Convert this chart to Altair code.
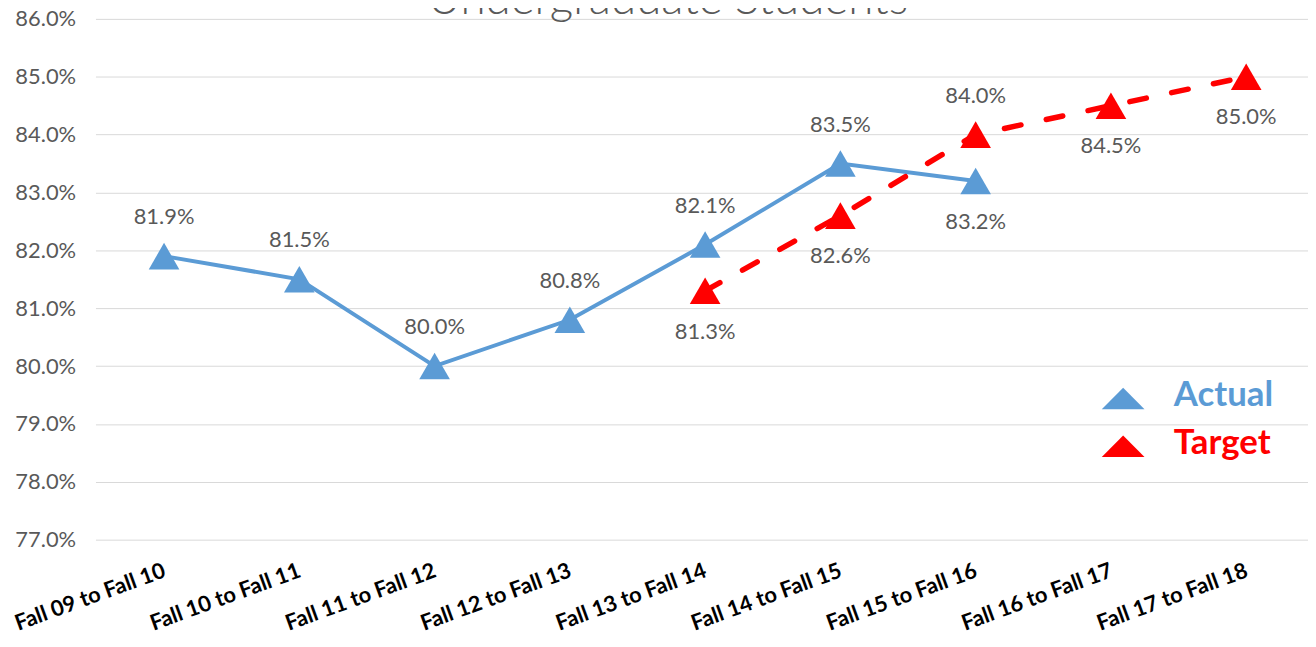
import altair as alt
import pandas as pd

# ---- data ----
categories = [
    "Fall 09 to Fall 10", "Fall 10 to Fall 11", "Fall 11 to Fall 12",
    "Fall 12 to Fall 13", "Fall 13 to Fall 14", "Fall 14 to Fall 15",
    "Fall 15 to Fall 16", "Fall 16 to Fall 17", "Fall 17 to Fall 18",
]
actual_values = [81.9, 81.5, 80.0, 80.8, 82.1, 83.5, 83.2, None, None]
target_values = [None, None, None, None, 81.3, 82.6, 84.0, 84.5, 85.0]
y_ticks = [77, 78, 79, 80, 81, 82, 83, 84, 85, 86]
series_names = ["Actual", "Target"]
title_text = "Undergraduate Students"

# ---- styling ----
BLUE = "#5B9BD5"
RED = "#FF0000"
GREY = "#595959"
FONT = "Lato"

# labels that sit on the other side of their point
below_actual = {"Fall 15 to Fall 16"}
above_target = {"Fall 15 to Fall 16"}

rows = []
for c, a, t in zip(categories, actual_values, target_values):
    if a is not None:
        rows.append({"category": c, "series": series_names[0], "value": a,
                     "below": c in below_actual})
    if t is not None:
        rows.append({"category": c, "series": series_names[1], "value": t,
                     "below": c not in above_target})
df = pd.DataFrame(rows)

x_enc = alt.X(
    "category:N", sort=categories,
    scale=alt.Scale(type="point", padding=0.482, align=0.526),
    axis=alt.Axis(title=None, labelAngle=340, labelAlign="right",
                  labelBaseline="middle", labelFont=FONT, labelFontWeight="bold",
                  labelFontSize=22, labelColor="#000000", labelPadding=30,
                  domain=False, ticks=False, grid=False),
)
y_enc = alt.Y(
    "value:Q",
    scale=alt.Scale(domain=[77, 86], nice=False, zero=False),
    axis=alt.Axis(title=None, values=y_ticks,
                  labelExpr="format(datum.value, '.1f') + '%'",
                  labelFont=FONT, labelFontSize=22, labelColor=GREY,
                  labelPadding=20, domain=False, ticks=False,
                  grid=True, gridColor="#D9D9D9", gridWidth=1),
)
color_enc = alt.Color("series:N", scale=alt.Scale(domain=series_names, range=[BLUE, RED]),
                      legend=None)

base = alt.Chart(df).encode(x=x_enc, y=y_enc, color=color_enc)

actual_line = base.transform_filter(alt.datum.series == series_names[0]).mark_line(
    strokeWidth=4)
target_line = base.transform_filter(alt.datum.series == series_names[1]).mark_line(
    strokeWidth=5.5, strokeDash=[17, 26], strokeCap="round")
points = base.mark_point(shape="triangle-up", filled=True, size=950, opacity=1)

labels_base = base.transform_calculate(
    label="format(datum.value, '.1f') + '%'"
).encode(text="label:N", color=alt.value(GREY))
labels_above = labels_base.transform_filter(alt.datum.below == False).mark_text(
    font=FONT, fontSize=22, dy=-39, baseline="middle")
labels_below = labels_base.transform_filter(alt.datum.below == True).mark_text(
    font=FONT, fontSize=22, dy=41, baseline="middle")

# ---- title (cut off at the top as in the reference) ----
title = alt.Chart(pd.DataFrame({"t": [title_text]})).mark_text(
    font=FONT, fontSize=46, fontWeight=300, color=GREY, align="center",
    baseline="alphabetic"
).encode(text="t:N", x=alt.value(576), y=alt.value(-5))

# ---- manual legend ----
flat_tri = "M-1,0.5L1,0.5L0,-0.5Z"
legend_layers = []
for name, col, ypix in [(series_names[0], BLUE, 382), (series_names[1], RED, 430)]:
    ldf = pd.DataFrame({"name": [name]})
    legend_layers.append(
        alt.Chart(ldf).mark_point(shape=flat_tri, filled=True, size=1850,
                                  color=col, opacity=1)
        .encode(x=alt.value(1034), y=alt.value(ypix))
    )
    legend_layers.append(
        alt.Chart(ldf).mark_text(font=FONT, fontSize=35, fontWeight="bold",
                                 color=col, align="left", baseline="middle")
        .encode(text="name:N", x=alt.value(1085), y=alt.value(ypix - 3))
    )

chart = alt.layer(
    actual_line, points.transform_filter(alt.datum.series == series_names[0]),
    target_line, points.transform_filter(alt.datum.series == series_names[1]),
    labels_above, labels_below, title, *legend_layers
).properties(
    width=1220, height=524,
    padding={"left": 88, "top": 9, "right": 0, "bottom": 100},
    autosize=alt.AutoSizeParams(type="none"),
).configure(background="white").configure_view(stroke=None)

chart.save("out.html", embed_options={"renderer": "svg", "actions": False})
